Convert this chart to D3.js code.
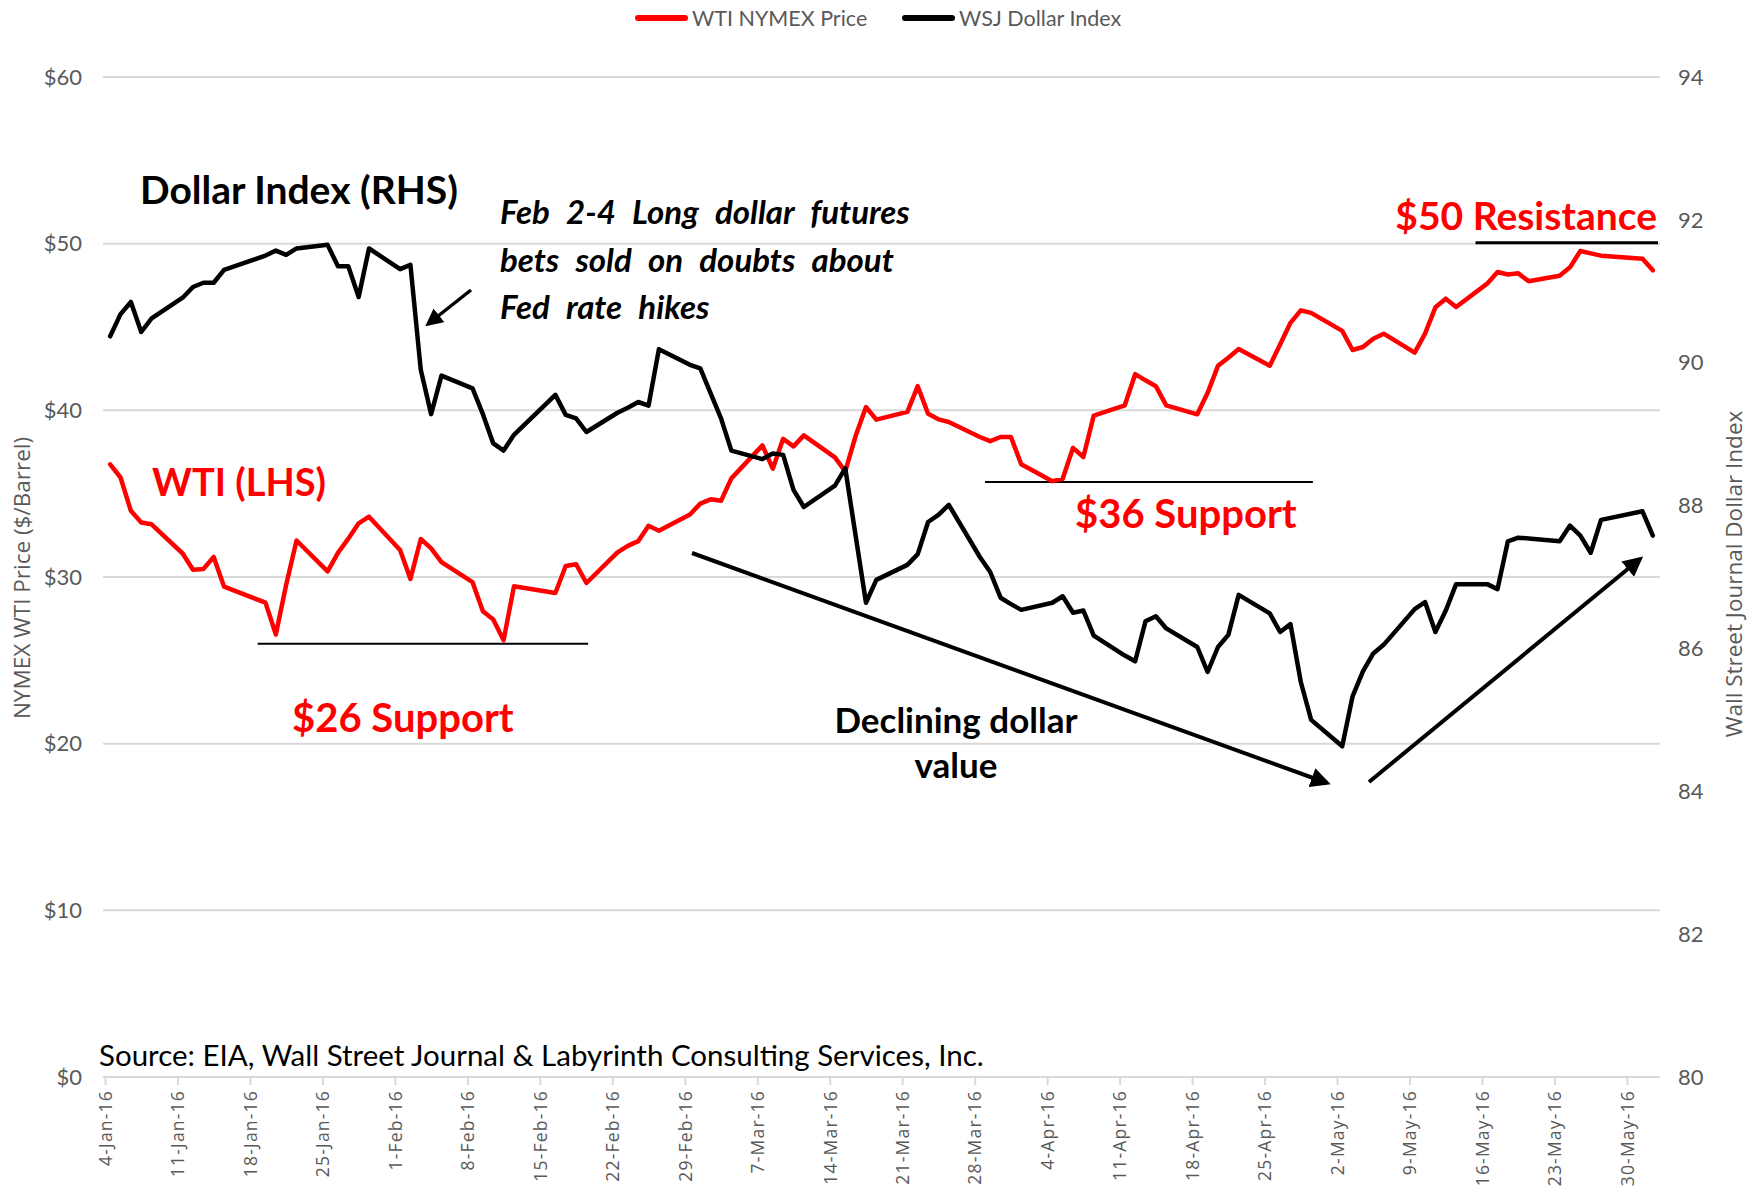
<!DOCTYPE html>
<html>
<head>
<meta charset="utf-8">
<script src="https://cdn.jsdelivr.net/npm/d3@7"></script>
<style>
  body { margin: 0; background: #ffffff; }
  .chart text { font-family: Lato, "Open Sans", sans-serif; }
  .tickLabel { fill: #595959; font-size: 22px; }
  .xLabel { fill: #595959; font-family: "Open Sans", sans-serif !important; font-size: 17.5px; letter-spacing: 1.2px; }
  .axisTitle { fill: #595959; font-family: "Open Sans", sans-serif !important; font-size: 22.5px; }
  .note { font-weight: bold; }
</style>
</head>
<body>
<div class="chart"></div>
<script>
// trading days, Jan 4 - Jun 1 2016
var dates = [
  "2016-01-04", "2016-01-05", "2016-01-06", "2016-01-07", "2016-01-08",
  "2016-01-11", "2016-01-12", "2016-01-13", "2016-01-14", "2016-01-15",
  "2016-01-19", "2016-01-20", "2016-01-21", "2016-01-22",
  "2016-01-25", "2016-01-26", "2016-01-27", "2016-01-28", "2016-01-29",
  "2016-02-01", "2016-02-02", "2016-02-03", "2016-02-04", "2016-02-05",
  "2016-02-08", "2016-02-09", "2016-02-10", "2016-02-11", "2016-02-12",
  "2016-02-16", "2016-02-17", "2016-02-18", "2016-02-19",
  "2016-02-22", "2016-02-23", "2016-02-24", "2016-02-25", "2016-02-26",
  "2016-02-29", "2016-03-01", "2016-03-02", "2016-03-03", "2016-03-04",
  "2016-03-07", "2016-03-08", "2016-03-09", "2016-03-10", "2016-03-11",
  "2016-03-14", "2016-03-15", "2016-03-16", "2016-03-17", "2016-03-18",
  "2016-03-21", "2016-03-22", "2016-03-23", "2016-03-24", "2016-03-25",
  "2016-03-28", "2016-03-29", "2016-03-30", "2016-03-31", "2016-04-01",
  "2016-04-04", "2016-04-05", "2016-04-06", "2016-04-07", "2016-04-08",
  "2016-04-11", "2016-04-12", "2016-04-13", "2016-04-14", "2016-04-15",
  "2016-04-18", "2016-04-19", "2016-04-20", "2016-04-21", "2016-04-22",
  "2016-04-25", "2016-04-26", "2016-04-27", "2016-04-28", "2016-04-29",
  "2016-05-02", "2016-05-03", "2016-05-04", "2016-05-05", "2016-05-06",
  "2016-05-09", "2016-05-10", "2016-05-11", "2016-05-12", "2016-05-13",
  "2016-05-16", "2016-05-17", "2016-05-18", "2016-05-19", "2016-05-20",
  "2016-05-23", "2016-05-24", "2016-05-25", "2016-05-26", "2016-05-27",
  "2016-05-31", "2016-06-01"
];

var wtiPrice = [
  36.76, 35.97, 33.97, 33.27, 33.16,
  31.41, 30.44, 30.48, 31.20, 29.42,
  28.46, 26.55, 29.53, 32.19,
  30.34, 31.45, 32.30, 33.22, 33.62,
  31.62, 29.88, 32.28, 31.72, 30.89,
  29.69, 27.94, 27.45, 26.21, 29.44,
  29.04, 30.66, 30.77, 29.64,
  31.48, 31.87, 32.15, 33.07, 32.78,
  33.75, 34.40, 34.66, 34.57, 35.92,
  37.90, 36.50, 38.29, 37.84, 38.50,
  37.18, 36.34, 38.46, 40.20, 39.44,
  39.91, 41.45, 39.79, 39.46, 39.30,
  38.40, 38.15, 38.40, 38.40, 36.76,
  35.75, 35.89, 37.75, 37.20, 39.68,
  40.30, 42.17, 41.80, 41.45, 40.30,
  39.76, 41.05, 42.67, 43.16, 43.68,
  42.68, 43.95, 45.25, 46.00, 45.85,
  44.77, 43.62, 43.80, 44.30, 44.60,
  43.46, 44.60, 46.18, 46.70, 46.20,
  47.60, 48.30, 48.15, 48.22, 47.75,
  48.08, 48.58, 49.56, 49.42, 49.28,
  49.10, 48.40
];

var dollarIndex = [
  90.37, 90.68, 90.85, 90.43, 90.62,
  90.91, 91.06, 91.12, 91.12, 91.30,
  91.50, 91.57, 91.51, 91.60,
  91.65, 91.35, 91.35, 90.92, 91.60,
  91.31, 91.37, 89.90, 89.28, 89.82,
  89.64, 89.28, 88.87, 88.77, 88.99,
  89.55, 89.27, 89.22, 89.03,
  89.30, 89.37, 89.45, 89.40, 90.19,
  89.97, 89.92, 89.57, 89.22, 88.77,
  88.65, 88.73, 88.71, 88.22, 87.98,
  88.28, 88.52, 87.58, 86.64, 86.96,
  87.17, 87.32, 87.77, 87.87, 88.01,
  87.28, 87.07, 86.71, 86.62, 86.54,
  86.64, 86.73, 86.50, 86.53, 86.18,
  85.90, 85.82, 86.38, 86.45, 86.28,
  86.02, 85.67, 86.02, 86.19, 86.75,
  86.49, 86.23, 86.34, 85.53, 85.00,
  84.63, 85.33, 85.68, 85.93, 86.05,
  86.55, 86.65, 86.23, 86.53, 86.90,
  86.90, 86.83, 87.50, 87.55, 87.54,
  87.50, 87.72, 87.58, 87.34, 87.80,
  87.92, 87.58
];

var leftTicks = [0, 10, 20, 30, 40, 50, 60];
var rightTicks = [80, 82, 84, 86, 88, 90, 92, 94];
var seriesNames = ["WTI NYMEX Price", "WSJ Dollar Index"];

var svgWidth = 1760;
var svgHeight = 1202;

var margin = {
  top: 77,
  right: 102,
  bottom: 125,
  left: 105
};

var width = svgWidth - margin.left - margin.right;
var height = svgHeight - margin.top - margin.bottom;

var svg = d3.select(".chart")
  .append("svg")
  .attr("width", svgWidth)
  .attr("height", svgHeight)
  .style("display", "block");

svg.append("rect")
  .attr("width", svgWidth)
  .attr("height", svgHeight)
  .attr("fill", "#ffffff");

var chartGroup = svg.append("g")
  .attr("transform", `translate(${margin.left}, ${margin.top})`);

// parse data
var parseDate = d3.utcParse("%Y-%m-%d");
var parseHour = d3.utcParse("%Y-%m-%d %H");
var chartData = dates.map(function(d, i) {
  return {
    date: d3.utcHour.offset(parseDate(d), 12),
    wti: wtiPrice[i],
    dollar: dollarIndex[i]
  };
});

// scales
var xTimeScale = d3.scaleUtc()
  .domain([parseDate("2016-01-04"), parseDate("2016-06-02")])
  .range([0, width]);

var yLeftScale = d3.scaleLinear()
  .domain([0, 60])
  .range([height, 0]);

var yRightScale = d3.scaleLinear()
  .domain([80, 94])
  .range([height, 0]);

// gridlines
chartGroup.selectAll(".grid")
  .data(leftTicks)
  .enter()
  .append("line")
  .attr("class", "grid")
  .attr("x1", -2)
  .attr("x2", width + 2)
  .attr("y1", d => yLeftScale(d))
  .attr("y2", d => yLeftScale(d))
  .attr("stroke", "#d9d9d9")
  .attr("stroke-width", 2);

// left labels
chartGroup.selectAll(".leftLabel")
  .data(leftTicks)
  .enter()
  .append("text")
  .attr("class", "tickLabel")
  .attr("x", -23)
  .attr("y", d => yLeftScale(d))
  .attr("dy", "0.35em")
  .attr("text-anchor", "end")
  .text(d => "$" + d);

// right labels
chartGroup.selectAll(".rightLabel")
  .data(rightTicks)
  .enter()
  .append("text")
  .attr("class", "tickLabel")
  .attr("x", width + 20)
  .attr("y", d => yRightScale(d))
  .attr("dy", "0.35em")
  .text(d => d);

// x axis
var mondays = d3.utcMonday.range(parseDate("2016-01-04"), parseDate("2016-06-01"));
var bottomAxis = d3.axisBottom(xTimeScale)
  .tickValues(mondays)
  .tickFormat(d3.utcFormat("%-d-%b-%y"))
  .tickSize(8)
  .tickSizeOuter(0);

var xAxisGroup = chartGroup.append("g")
  .attr("transform", `translate(0, ${height})`)
  .call(bottomAxis);

xAxisGroup.select(".domain").remove();
xAxisGroup.selectAll(".tick line").attr("stroke", "#d9d9d9").attr("stroke-width", 2);
xAxisGroup.selectAll(".tick text")
  .attr("class", "xLabel")
  .attr("transform", "rotate(-90)")
  .attr("text-anchor", "end")
  .attr("x", -13)
  .attr("y", 0)
  .attr("dy", "0.36em");

// axis titles
chartGroup.append("text")
  .attr("class", "axisTitle")
  .attr("transform", `translate(${22 - margin.left}, ${578 - margin.top}) rotate(-90)`)
  .attr("text-anchor", "middle")
  .attr("dy", "0.35em")
  .text("NYMEX WTI Price ($/Barrel)");

chartGroup.append("text")
  .attr("class", "axisTitle")
  .attr("transform", `translate(${1734 - margin.left}, ${574 - margin.top}) rotate(-90)`)
  .attr("text-anchor", "middle")
  .attr("dy", "0.35em")
  .text("Wall Street Journal Dollar Index");

// support / resistance lines
var levelLines = [
  { from: "2016-01-18 18", to: "2016-02-19 16", value: 26, w: 2 },
  { from: "2016-03-29 00", to: "2016-04-29 16", value: 35.7, w: 2 },
  { from: "2016-05-15 09", to: "2016-06-02 00", value: 50.05, w: 3 }
];
chartGroup.selectAll(".level")
  .data(levelLines)
  .enter()
  .append("line")
  .attr("x1", d => xTimeScale(parseHour(d.from)))
  .attr("x2", d => xTimeScale(parseHour(d.to)))
  .attr("y1", d => yLeftScale(d.value))
  .attr("y2", d => yLeftScale(d.value))
  .attr("stroke", "#000")
  .attr("stroke-width", d => d.w);

// lines
var wtiLine = d3.line()
  .x(d => xTimeScale(d.date))
  .y(d => yLeftScale(d.wti));

var dollarLine = d3.line()
  .x(d => xTimeScale(d.date))
  .y(d => yRightScale(d.dollar));

chartGroup.append("path")
  .datum(chartData)
  .attr("d", wtiLine)
  .attr("fill", "none")
  .attr("stroke", "#ff0000")
  .attr("stroke-width", 4.5)
  .attr("stroke-linejoin", "round")
  .attr("stroke-linecap", "round");

chartGroup.append("path")
  .datum(chartData)
  .attr("d", dollarLine)
  .attr("fill", "none")
  .attr("stroke", "#000000")
  .attr("stroke-width", 4.5)
  .attr("stroke-linejoin", "round")
  .attr("stroke-linecap", "round");

// legend
var legendColors = ["#ff0000", "#000000"];
var legendX = [636, 903];
var legend = svg.selectAll(".legend")
  .data(seriesNames)
  .enter()
  .append("g")
  .attr("transform", (d, i) => `translate(${legendX[i]}, 18)`);
legend.append("line")
  .attr("x1", 2).attr("x2", 49)
  .attr("stroke", (d, i) => legendColors[i])
  .attr("stroke-width", 6)
  .attr("stroke-linecap", "round");
legend.append("text")
  .attr("x", 56)
  .attr("dy", "0.35em")
  .attr("fill", "#595959")
  .style("font-size", "21.5px")
  .text(d => d);

// arrows
var defs = svg.append("defs");
defs.append("marker")
  .attr("id", "arrow")
  .attr("viewBox", "0 0 10 10")
  .attr("refX", 8)
  .attr("refY", 5)
  .attr("markerWidth", 5)
  .attr("markerHeight", 5)
  .attr("markerUnits", "strokeWidth")
  .attr("orient", "auto")
  .append("path")
  .attr("d", "M0,0 L10,5 L0,10 z")
  .attr("fill", "#000");

var arrows = [
  { x1: 471, y1: 290, x2: 428, y2: 324, w: 3.5 },
  { x1: 692, y1: 553, x2: 1327, y2: 783, w: 4 },
  { x1: 1369, y1: 782, x2: 1640, y2: 559, w: 4 }
];
svg.selectAll(".arrow")
  .data(arrows)
  .enter()
  .append("line")
  .attr("x1", d => d.x1).attr("y1", d => d.y1)
  .attr("x2", d => d.x2).attr("y2", d => d.y2)
  .attr("stroke", "#000")
  .attr("stroke-width", d => d.w)
  .attr("marker-end", "url(#arrow)");

// annotations
function note(x, y, txt, size, color, anchor, italic) {
  return svg.append("text")
    .attr("class", "note")
    .attr("x", x)
    .attr("y", y)
    .attr("fill", color)
    .attr("text-anchor", anchor || "start")
    .style("font-size", size + "px")
    .style("font-style", italic ? "italic" : "normal")
    .text(txt);
}

note(140, 204, "Dollar Index (RHS)", 39, "#000");
note(500, 224, "Feb 2-4 Long dollar futures", 33, "#000", "start", true).style("word-spacing", "9px");
note(500, 272, "bets sold on doubts about", 33, "#000", "start", true).style("word-spacing", "9px");
note(500, 319, "Fed rate hikes", 33, "#000", "start", true).style("word-spacing", "9px");
note(152, 496, "WTI (LHS)", 38, "#ff0000");
note(292, 732, "$26 Support", 40, "#ff0000");
note(1075, 528, "$36 Support", 40, "#ff0000");
note(1657, 230, "$50 Resistance", 39, "#ff0000", "end");
note(956, 733, "Declining dollar", 35, "#000", "middle");
note(956, 778, "value", 35, "#000", "middle");

svg.append("text")
  .attr("x", 99)
  .attr("y", 1066)
  .attr("fill", "#000")
  .style("font-size", "29.5px")
  .text("Source: EIA, Wall Street Journal & Labyrinth Consulting Services, Inc.");
</script>
</body>
</html>
